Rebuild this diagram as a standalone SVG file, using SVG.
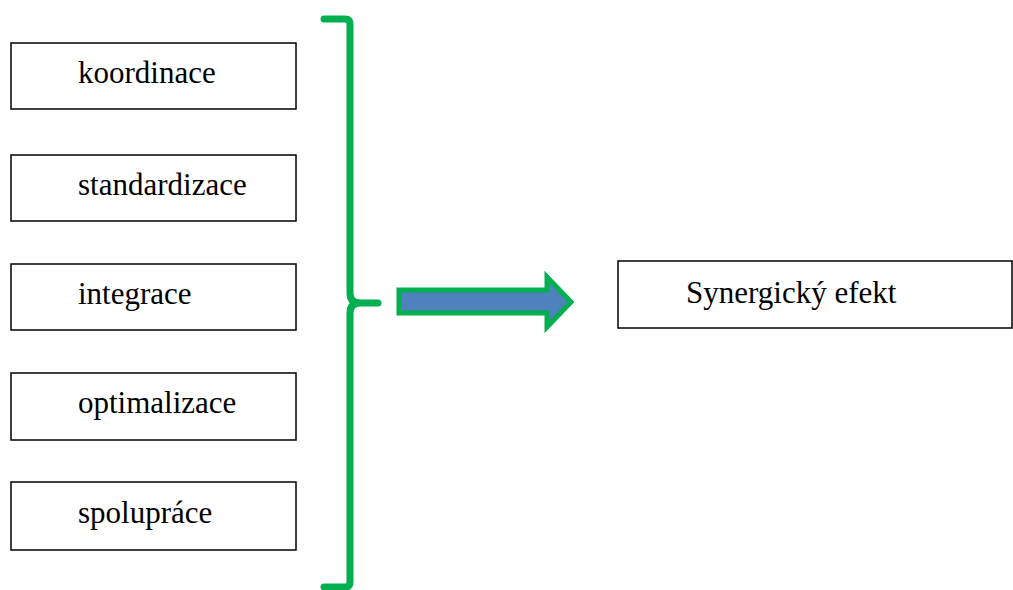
<svg xmlns="http://www.w3.org/2000/svg" width="1013" height="590" viewBox="0 0 1013 590">
<style>
.box{fill:#fff;stroke:#000;stroke-width:1.5}
.t{font-size:31px;fill:#000}
.brace{fill:none;stroke:#00B050;stroke-width:7;stroke-linecap:round;stroke-linejoin:round}
</style>
<rect width="1013" height="590" fill="#fff"/>
<g font-family="'Liberation Serif', 'Times New Roman', serif">
<g id="n1"><rect class="box" x="11" y="43" width="285" height="66"/><text class="t" x="78" y="83">koordinace</text></g>
<g id="n2"><rect class="box" x="11" y="155" width="285" height="66"/><text class="t" x="78" y="195">standardizace</text></g>
<g id="n3"><rect class="box" x="11" y="264" width="285" height="66"/><text class="t" x="78" y="304">integrace</text></g>
<g id="n4"><rect class="box" x="11" y="373" width="285" height="67"/><text class="t" x="78" y="413">optimalizace</text></g>
<g id="n5"><rect class="box" x="11" y="482" width="285" height="68"/><text class="t" x="78" y="523">spolupráce</text></g>
<g id="n6"><rect class="box" x="618" y="261" width="394" height="67"/><text class="t" x="686" y="303">Synergický efekt</text></g>
</g>
<g id="connectors">
<path class="brace" d="M324,19 L345,19 Q350,19 350,24 L350,293 Q350,303 360,303 L378,303 M360,303 Q350,303 350,313 L350,582 Q350,587 345,587 L324,587"/>
<path d="M399,290 L547,290 L547,277 L571,302 L547,327 L547,313 L399,313 Z" fill="#4F81BD" stroke="#00B050" stroke-width="5"/>
</g>
</svg>
